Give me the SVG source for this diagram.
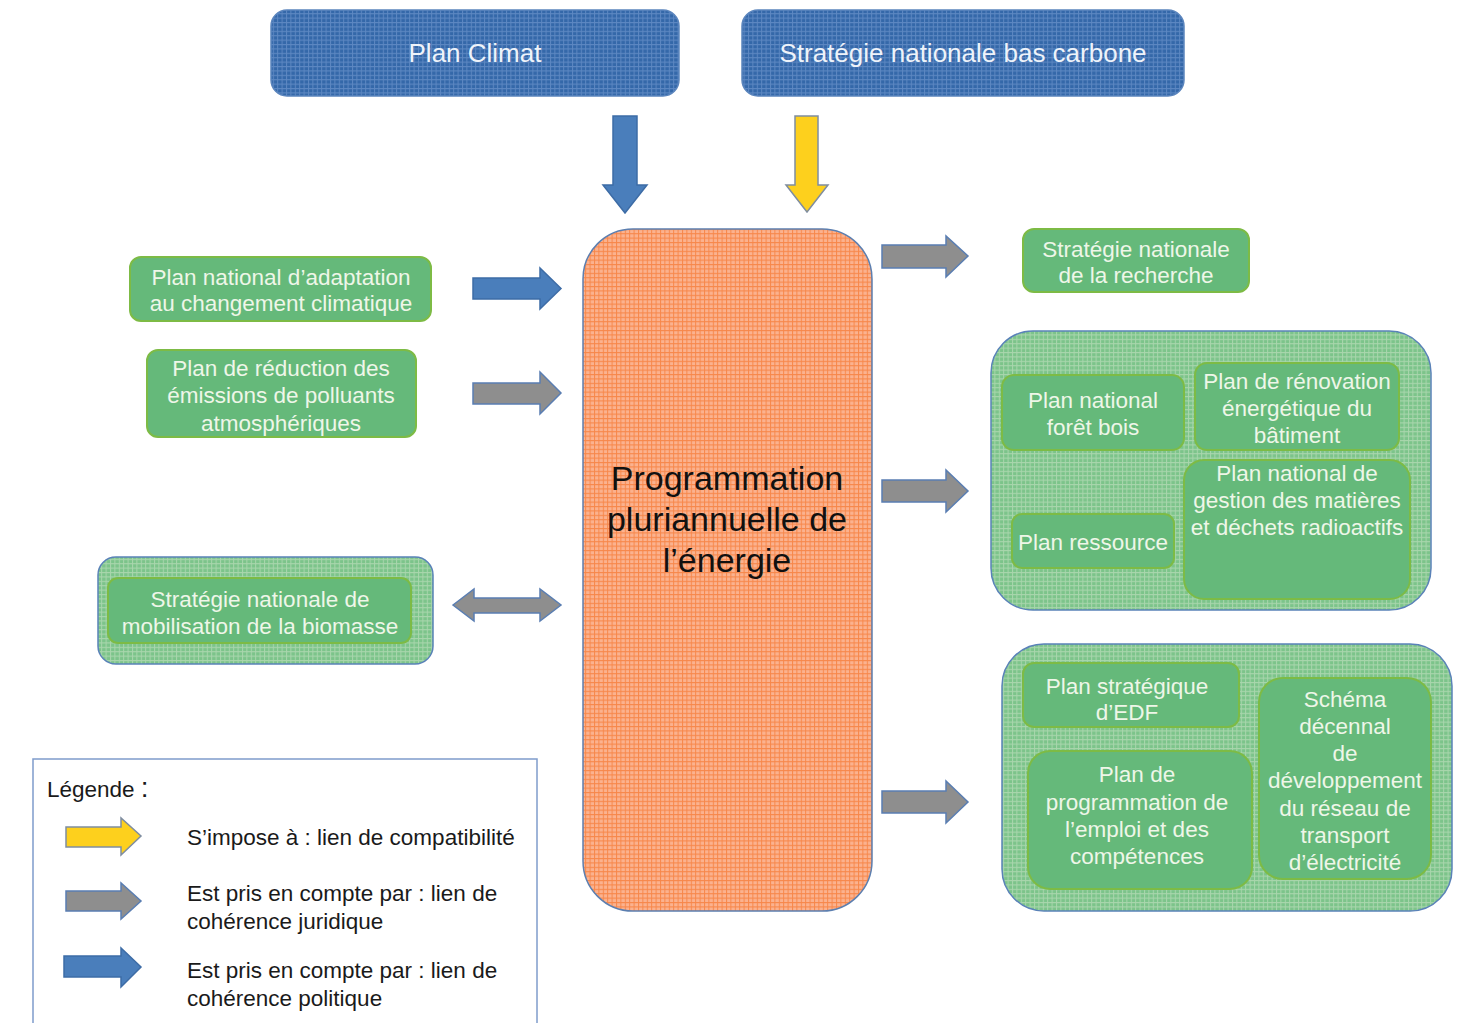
<svg xmlns="http://www.w3.org/2000/svg" width="1471" height="1023" viewBox="0 0 1471 1023">
<defs>
<pattern id="gBlue" width="4.4" height="4.4" patternUnits="userSpaceOnUse">
<rect width="4.4" height="4.4" fill="#3468a9"/>
<path d="M0,0.5H4.4M0.5,0V4.4" stroke="#5d88c2" stroke-width="1"/>
</pattern>
<pattern id="gOrange" width="4.4" height="4.4" patternUnits="userSpaceOnUse">
<rect width="4.4" height="4.4" fill="#fbb28f"/>
<path d="M0,0.5H4.4M0.5,0V4.4" stroke="#f7874a" stroke-width="1"/>
</pattern>
<pattern id="gGreen" width="4.4" height="4.4" patternUnits="userSpaceOnUse">
<rect width="4.4" height="4.4" fill="#7cc48a"/>
<path d="M0,0.5H4.4M0.5,0V4.4" stroke="#a9d6ad" stroke-width="1"/>
</pattern>
<style>
.t{font-family:"Liberation Sans",Arial,sans-serif;}
.top{fill:url(#gBlue);stroke:#5b85bd;stroke-width:1.5;}
.tt{font-size:26px;fill:#eef3fa;text-anchor:middle;}
.g{fill:#65b97a;stroke:#7dbb45;stroke-width:2;}
.grp{fill:url(#gGreen);stroke:#5a82b8;stroke-width:1.5;}
.gt{font-size:22.5px;fill:#eef6e8;text-anchor:middle;}
.ct{font-size:34px;fill:#111;text-anchor:middle;}
.lt{font-size:22.5px;fill:#1a1a1a;}
.ab{fill:#4a7ebb;stroke:#3d6ca6;stroke-width:1.5;}
.ag{fill:#8e8e8e;stroke:#5a7eb2;stroke-width:1.5;}
.ay{fill:#fdd01d;stroke:#7f8da0;stroke-width:1.5;}
</style>
</defs>
<rect width="1471" height="1023" fill="#ffffff"/>

<g id="plan-climat">
<rect class="top" x="271" y="10" width="408" height="86" rx="16"/>
<text class="t tt" x="475" y="62">Plan Climat</text>
</g>
<g id="snbc">
<rect class="top" x="742" y="10" width="442" height="86" rx="16"/>
<text class="t tt" x="963" y="62">Stratégie nationale bas carbone</text>
</g>

<g id="ppe">
<rect x="583" y="229" width="289" height="682" rx="50" fill="url(#gOrange)" stroke="#5c7fb0" stroke-width="1.5"/>
<text class="t ct" x="727" y="490">Programmation</text>
<text class="t ct" x="727" y="531">pluriannuelle de</text>
<text class="t ct" x="727" y="572">l’énergie</text>
</g>

<g id="pnacc">
<rect class="g" x="130" y="257" width="301" height="64" rx="11"/>
<text class="t gt" x="281" y="285">Plan national d’adaptation</text>
<text class="t gt" x="281" y="311">au changement climatique</text>
</g>
<g id="prepa">
<rect class="g" x="147" y="350" width="269" height="87" rx="11"/>
<text class="t gt" x="281" y="376">Plan de réduction des</text>
<text class="t gt" x="281" y="403">émissions de polluants</text>
<text class="t gt" x="281" y="431">atmosphériques</text>
</g>
<g id="biomasse">
<rect class="grp" x="98" y="557" width="335" height="107" rx="18"/>
<rect class="g" x="108" y="578" width="303" height="65" rx="10"/>
<text class="t gt" x="260" y="607">Stratégie nationale de</text>
<text class="t gt" x="260" y="634">mobilisation de la biomasse</text>
</g>

<g id="snr">
<rect class="g" x="1023" y="229" width="226" height="63" rx="11"/>
<text class="t gt" x="1136" y="257">Stratégie nationale</text>
<text class="t gt" x="1136" y="283">de la recherche</text>
</g>

<g id="groupe1">
<rect class="grp" x="991" y="331" width="440" height="279" rx="42"/>
<g id="pnfb">
<rect class="g" x="1002" y="375" width="182" height="75" rx="12"/>
<text class="t gt" x="1093" y="408">Plan national</text>
<text class="t gt" x="1093" y="435">forêt bois</text>
</g>
<g id="preb">
<rect class="g" x="1195" y="363" width="204" height="87" rx="12"/>
<text class="t gt" x="1297" y="389">Plan de rénovation</text>
<text class="t gt" x="1297" y="416">énergétique du</text>
<text class="t gt" x="1297" y="443">bâtiment</text>
</g>
<g id="pngmdr">
<rect class="g" x="1184" y="460" width="226" height="139" rx="20"/>
<text class="t gt" x="1297" y="481">Plan national de</text>
<text class="t gt" x="1297" y="508">gestion des matières</text>
<text class="t gt" x="1297" y="535">et déchets radioactifs</text>
</g>
<g id="pressource">
<rect class="g" x="1012" y="514" width="162" height="54" rx="10"/>
<text class="t gt" x="1093" y="550">Plan ressource</text>
</g>
</g>

<g id="groupe2">
<rect class="grp" x="1002" y="644" width="450" height="267" rx="42"/>
<g id="pse">
<rect class="g" x="1023" y="663" width="216" height="64" rx="11"/>
<text class="t gt" x="1127" y="694">Plan stratégique</text>
<text class="t gt" x="1127" y="720">d’EDF</text>
</g>
<g id="ppec">
<rect class="g" x="1028" y="751" width="224" height="138" rx="22"/>
<text class="t gt" x="1137" y="782">Plan de</text>
<text class="t gt" x="1137" y="810">programmation de</text>
<text class="t gt" x="1137" y="837">l’emploi et des</text>
<text class="t gt" x="1137" y="864">compétences</text>
</g>
<g id="sddr">
<rect class="g" x="1259" y="678" width="172" height="201" rx="24"/>
<text class="t gt" x="1345" y="707">Schéma</text>
<text class="t gt" x="1345" y="734">décennal</text>
<text class="t gt" x="1345" y="761">de</text>
<text class="t gt" x="1345" y="788">développement</text>
<text class="t gt" x="1345" y="816">du réseau de</text>
<text class="t gt" x="1345" y="843">transport</text>
<text class="t gt" x="1345" y="870">d’électricité</text>
</g>
</g>

<g id="connecteurs">
<path class="ab" d="M613,116 H637 V185 H647 L625,213 L603,185 H613 Z"/>
<path class="ay" d="M795,116 H818 V185 H828 L807,212 L786,185 H795 Z"/>
<path class="ab" d="M473,278 H540 V268 L561,288.5 L540,309 V299 H473 Z"/>
<path class="ag" d="M473,383 H540 V372 L561,393 L540,414 V404 H473 Z"/>
<path class="ag" d="M453,605 L474,589 V598 H540 V589 L561,605 L540,621 V613 H474 V621 Z"/>
<path class="ag" d="M882,245 H946 V236 L968,256 L946,277 V268 H882 Z"/>
<path class="ag" d="M882,480 H946 V470 L968,491 L946,512 V502 H882 Z"/>
<path class="ag" d="M882,791 H946 V781 L968,802 L946,823 V813 H882 Z"/>
</g>

<g id="legende">
<rect x="33" y="759" width="504" height="280" fill="#ffffff" stroke="#7f9ccb" stroke-width="1.5"/>
<text class="t lt" x="47" y="797">Légende <tspan font-size="28">:</tspan></text>
<path class="ay" d="M66,827 H121 V818 L141,836 L121,855 V847 H66 Z"/>
<text class="t lt" x="187" y="845">S’impose à : lien de compatibilité</text>
<path class="ag" d="M66,891 H121 V883 L141,901 L121,919 V911 H66 Z"/>
<text class="t lt" x="187" y="901">Est pris en compte par : lien de</text>
<text class="t lt" x="187" y="929">cohérence juridique</text>
<path class="ab" d="M64,956 H121 V948 L141,967 L121,987 V977 H64 Z"/>
<text class="t lt" x="187" y="978">Est pris en compte par : lien de</text>
<text class="t lt" x="187" y="1006">cohérence politique</text>
</g>
</svg>
